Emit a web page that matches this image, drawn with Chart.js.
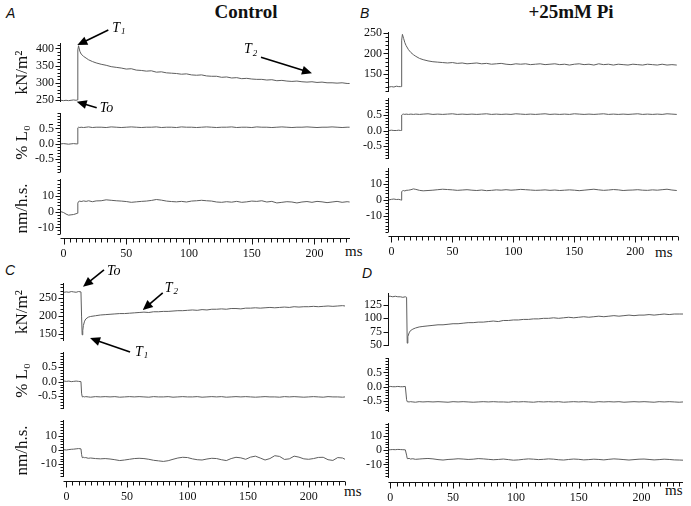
<!DOCTYPE html>
<html lang="en">
<head>
<meta charset="UTF-8" />
<title>Force, length and sarcomere responses</title>
<script src="https://cdn.jsdelivr.net/npm/chart.js"></script>
<style>
  body { margin: 0; background: #fff; }
  #fig {
    position: relative;
    width: 691px;
    height: 506px;
    overflow: hidden;
    font-family: 'Liberation Serif', 'DejaVu Serif', serif;
    color: #111;
  }
  #fig canvas { position: absolute; }
  .lbl { position: absolute; white-space: nowrap; line-height: 1; color: #111; }
  .panel { font-family: 'Liberation Sans', Arial, sans-serif; font-style: italic; font-size: 14px; }
  .head { font-weight: bold; font-size: 19px; transform: translateX(-50%); }
  .ms { font-size: 15px; }
</style>
</head>
<body>
<div id="fig">
  <div class="lbl panel" style="left:6px;top:6px">A</div>
  <div class="lbl panel" style="left:360px;top:6px">B</div>
  <div class="lbl panel" style="left:5px;top:263px">C</div>
  <div class="lbl panel" style="left:362px;top:266px">D</div>
  <div class="lbl head" style="left:246px;top:2px">Control</div>
  <div class="lbl head" style="left:571px;top:2px">+25mM Pi</div>
  <div class="lbl ms" style="left:345px;top:244px">ms</div>
  <div class="lbl ms" style="left:655px;top:245px">ms</div>
  <div class="lbl ms" style="left:344px;top:484px">ms</div>
  <div class="lbl ms" style="left:665px;top:483px">ms</div>
</div>

<script>
// ---- panel A: control, stretch (time in ms) ----
const tA = [
  -2, 0, 2, 4, 6, 8, 10, 11, 11.4, 12,
  13, 14, 16, 18, 20, 23, 26, 30, 34, 38,
  42, 46, 50, 54, 58, 62, 66, 70, 74, 78,
  82, 86, 90, 94, 98, 102, 106, 110, 114, 118,
  122, 126, 130, 134, 138, 142, 146, 150, 154, 158,
  162, 166, 170, 174, 178, 182, 186, 190, 194, 198,
  202, 206, 210, 214, 218, 222, 226, 228
];
const forceA = [
  249, 248, 249, 248, 249, 250, 249, 250, 396, 408,
  392, 384, 377, 372, 367, 362, 358, 354, 351, 347,
  345, 343, 340, 341, 337, 336, 334, 335, 331, 332,
  329, 328, 327, 325, 326, 323, 322, 323, 320, 319,
  319, 316, 317, 314, 315, 312, 313, 311, 310, 310,
  308, 309, 306, 307, 305, 304, 305, 303, 302, 303,
  301, 302, 300, 300, 299, 300, 298, 298
];
const lenA = [
  0, 0.01, 0, -0.01, 0, 0.01, 0, 0, 0.52, 0.54,
  0.53, 0.54, 0.53, 0.54, 0.55, 0.53, 0.54, 0.54, 0.53, 0.55,
  0.54, 0.53, 0.54, 0.55, 0.54, 0.53, 0.54, 0.54, 0.55, 0.53,
  0.54, 0.54, 0.53, 0.55, 0.54, 0.54, 0.53, 0.54, 0.55, 0.54,
  0.53, 0.54, 0.54, 0.55, 0.53, 0.54, 0.54, 0.53, 0.55, 0.54,
  0.54, 0.53, 0.54, 0.55, 0.54, 0.53, 0.54, 0.54, 0.55, 0.54,
  0.53, 0.54, 0.54, 0.55, 0.54, 0.53, 0.54, 0.54
];
const sarcA = [
  0, -0.5, -1.5, -2.2, -2.0, -1.8, -1.3, -1.0, 5.5, 6.5,
  6.8, 6.5, 6.9, 6.6, 7.0, 6.4, 6.9, 7.0, 7.6, 7.3,
  7.0, 6.8, 6.5, 6.0, 6.3, 6.6, 6.8, 7.2, 7.8, 7.4,
  6.8, 6.5, 6.3, 6.6, 6.2, 6.8, 7.0, 7.3, 7.0, 6.8,
  6.2, 6.0, 6.4, 6.1, 6.6, 6.0, 6.3, 6.8, 6.6, 7.0,
  6.2, 6.6, 5.6, 6.0, 6.4, 6.2, 5.6, 6.2, 6.5, 6.0,
  6.6, 6.3, 5.8, 6.2, 6.6, 6.0, 6.4, 6.2
];

// ---- panel B: +25mM Pi, stretch ----
const tB = [
  -2, 0, 2, 4, 6, 7.5, 8, 8.4, 9, 10,
  11, 12, 14, 16, 18, 20, 23, 26, 30, 34,
  38, 42, 46, 50, 54, 58, 62, 66, 70, 74,
  78, 82, 86, 90, 94, 98, 102, 106, 110, 114,
  118, 122, 126, 130, 134, 138, 142, 146, 150, 154,
  158, 162, 166, 170, 174, 178, 182, 186, 190, 194,
  198, 202, 206, 210, 214, 218, 222, 226, 230, 234
];
const forceB = [
  119, 120, 119, 121, 120, 120, 120, 232, 246, 236,
  226, 219, 209, 202, 197, 193, 188, 185, 182, 180,
  179, 178, 177, 178, 176, 177, 175, 176, 177, 175,
  176, 174, 175, 176, 174, 173, 175, 174, 175, 173,
  174, 175, 173, 174, 175, 173, 174, 172, 174, 175,
  173, 174, 172, 175, 173, 174, 172, 174, 173, 172,
  174, 173, 172, 174, 173, 172, 174, 172, 173, 172
];
const lenB = [
  0, 0.01, 0, 0, 0.01, 0, 0, 0.50, 0.52, 0.53,
  0.52, 0.53, 0.52, 0.53, 0.52, 0.53, 0.52, 0.53, 0.54, 0.52,
  0.53, 0.52, 0.53, 0.54, 0.52, 0.53, 0.52, 0.53, 0.52, 0.53,
  0.54, 0.52, 0.53, 0.52, 0.53, 0.52, 0.54, 0.53, 0.52, 0.53,
  0.52, 0.53, 0.54, 0.52, 0.53, 0.52, 0.53, 0.52, 0.54, 0.53,
  0.52, 0.53, 0.52, 0.53, 0.54, 0.52, 0.53, 0.52, 0.53, 0.52,
  0.53, 0.54, 0.52, 0.53, 0.52, 0.53, 0.52, 0.54, 0.53, 0.52
];
const sarcB = [
  0, 0.3, 0.5, 0.2, 0.3, 0, -0.2, 5.0, 5.6, 5.8,
  5.5, 5.9, 6.0, 6.3, 6.8, 6.5, 5.9, 5.6, 5.8, 6.0,
  6.3, 6.6, 6.4, 6.2, 5.9, 6.1, 6.3, 6.0, 5.8, 6.1,
  5.7, 5.9, 6.2, 6.0, 6.3, 6.0, 6.2, 6.5, 6.3, 6.1,
  5.9, 6.0, 6.2, 5.9, 6.1, 5.8, 6.0, 6.2, 6.0, 5.7,
  6.0, 6.3, 6.6, 6.2, 5.9, 6.1, 6.4, 6.2, 5.8, 6.0,
  6.1, 6.3, 6.0, 5.9, 6.2, 6.0, 6.3, 6.6, 6.1, 5.8
];

// ---- panel C: control, release ----
const tC = [
  -2, 0, 2, 4, 6, 8, 10, 12, 12.5, 13,
  13.5, 14, 15, 16, 18, 20, 24, 28, 32, 36,
  40, 44, 48, 52, 56, 60, 64, 68, 72, 76,
  80, 84, 88, 92, 96, 100, 104, 108, 112, 116,
  120, 124, 128, 132, 136, 140, 144, 148, 152, 156,
  160, 164, 168, 172, 176, 180, 184, 188, 192, 196,
  200, 204, 208, 212, 216, 220, 224, 228, 230
];
const forceC = [
  266, 267, 266, 268, 267, 266, 268, 267, 200, 148,
  160, 174, 186, 192, 197, 199, 201, 203, 204, 205,
  206, 207, 207, 208, 209, 210, 211, 210, 212, 212,
  213, 213, 214, 215, 215, 216, 217, 216, 218, 217,
  219, 219, 220, 219, 221, 221, 220, 222, 222, 223,
  222, 223, 224, 223, 224, 225, 224, 226, 225, 226,
  226, 227, 226, 227, 228, 227, 228, 229, 228
];
const lenC = [
  0.02, 0.01, 0.02, 0, 0.01, 0.02, 0.01, 0, -0.4, -0.52,
  -0.53, -0.52, -0.53, -0.52, -0.53, -0.54, -0.52, -0.53, -0.52, -0.53,
  -0.52, -0.54, -0.53, -0.52, -0.53, -0.52, -0.53, -0.54, -0.52, -0.53,
  -0.53, -0.52, -0.54, -0.53, -0.52, -0.53, -0.53, -0.52, -0.54, -0.53,
  -0.52, -0.53, -0.52, -0.54, -0.53, -0.52, -0.53, -0.52, -0.53, -0.54,
  -0.53, -0.52, -0.53, -0.53, -0.54, -0.52, -0.53, -0.52, -0.53, -0.54,
  -0.53, -0.52, -0.53, -0.54, -0.52, -0.53, -0.53, -0.54, -0.53
];
const sarcC = [
  0.2, 0, 0.3, 0.5, 0.6, 0.8, 1.0, 0.8, -3.0, -5.2,
  -5.5, -5.0, -5.4, -5.3, -5.8, -5.6, -6.0, -6.2, -6.0, -6.3,
  -6.8, -7.4, -7.0, -6.5, -6.0, -5.8, -6.0, -6.5, -7.2, -7.6,
  -8.0, -7.5, -6.5, -5.6, -5.1, -5.3, -6.2, -6.8, -7.0, -6.3,
  -5.8, -6.0, -6.8, -7.4, -6.0, -5.1, -5.5, -6.5, -5.0, -4.3,
  -5.6, -7.0, -6.0, -4.0, -4.5, -6.6, -6.2, -4.3, -5.0, -6.2,
  -6.5, -6.0, -5.2, -5.1, -6.8, -7.3, -5.3, -5.6, -6.5
];

// ---- panel D: +25mM Pi, release ----
const tD = [
  -1, 0, 2, 4, 6, 8, 10, 12, 13, 13.5,
  14, 15, 16, 18, 20, 23, 26, 30, 34, 38,
  42, 46, 50, 54, 58, 62, 66, 70, 74, 78,
  82, 86, 90, 94, 98, 102, 106, 110, 114, 118,
  122, 126, 130, 134, 138, 142, 146, 150, 154, 158,
  162, 166, 170, 174, 178, 182, 186, 190, 194, 198,
  202, 206, 210, 214, 218, 222, 226, 230, 233
];
const forceD = [
  141, 141, 140, 141, 140, 140, 139, 140, 139, 54,
  66, 73, 77, 80, 82, 84, 85, 86, 87, 88,
  88, 89, 90, 90, 91, 92, 92, 93, 93, 94,
  95, 94, 96, 96, 97, 97, 98, 98, 99, 99,
  100, 100, 101, 100, 101, 102, 101, 102, 103, 102,
  103, 104, 103, 104, 105, 104, 105, 106, 105, 106,
  106, 107, 106, 107, 108, 107, 108, 108, 108
];
const lenD = [
  0, 0.01, 0, 0, 0.01, 0, 0, 0.01, -0.45, -0.52,
  -0.52, -0.53, -0.52, -0.53, -0.54, -0.52, -0.53, -0.52, -0.53, -0.52,
  -0.53, -0.54, -0.52, -0.53, -0.52, -0.53, -0.54, -0.53, -0.52, -0.53,
  -0.52, -0.53, -0.53, -0.54, -0.52, -0.53, -0.52, -0.53, -0.54, -0.52,
  -0.53, -0.52, -0.53, -0.52, -0.54, -0.53, -0.52, -0.53, -0.52, -0.53,
  -0.54, -0.52, -0.53, -0.52, -0.53, -0.52, -0.54, -0.53, -0.52, -0.53,
  -0.52, -0.53, -0.54, -0.52, -0.53, -0.52, -0.53, -0.54, -0.53
];
const sarcD = [
  0.2, 0.3, 0.4, 0.3, 0.5, 0.4, 0.3, 0.2, -3.5, -5.8,
  -6.0, -5.7, -6.2, -6.0, -6.4, -6.2, -6.0, -5.8, -6.1, -6.6,
  -6.9, -6.5, -6.3, -6.0, -6.2, -6.5, -6.3, -5.9, -6.1, -6.4,
  -6.7, -6.5, -6.2, -6.6, -7.0, -6.8, -6.4, -6.1, -6.3, -6.6,
  -6.4, -6.1, -6.3, -6.7, -6.9, -6.5, -6.2, -6.4, -6.8, -6.6,
  -6.3, -6.5, -6.8, -6.4, -6.1, -6.3, -6.6, -6.9, -6.6, -6.3,
  -6.2, -6.5, -6.8, -6.6, -6.3, -6.5, -6.8, -6.9, -7.0
];

// ---- labelled ticks ----
const timeTicks = [0, 50, 100, 150, 200];
const forceTicksA = [250, 300, 350, 400];
const forceTicksB = [150, 200, 250];
const forceTicksC = [150, 200, 250];
const forceTicksD = [50, 75, 100, 125];
const lenTicks = [-0.5, 0, 0.5];
const sarcTicks = [-10, 0, 10];

const SERIF = "'Liberation Serif', 'DejaVu Serif', serif";
Chart.defaults.font.family = SERIF;
Chart.defaults.color = '#111';

const fig = document.getElementById('fig');

function tickList(min, max, step) {
  const out = [];
  for (let k = Math.ceil(min / step - 1e-9); k * step <= max + 1e-9; k++) {
    out.push(Math.round(k * step * 1000) / 1000);
  }
  return out;
}
function isMajor(list, v) { return list.some(m => Math.abs(m - v) < 1e-6); }

function drawNote(ctx, xs, ys, n) {
  const hx = xs.getPixelForValue(n.at[0]), hy = ys.getPixelForValue(n.at[1]);
  const tx = hx + n.tail[0], ty = hy + n.tail[1];
  const a = Math.atan2(hy - ty, hx - tx), c = Math.cos(a), s = Math.sin(a);
  ctx.strokeStyle = '#000';
  ctx.fillStyle = '#000';
  ctx.lineWidth = 1.6;
  ctx.beginPath();
  ctx.moveTo(tx, ty);
  ctx.lineTo(hx - 7 * c, hy - 7 * s);
  ctx.stroke();
  ctx.beginPath();
  ctx.moveTo(hx, hy);
  ctx.lineTo(hx - 10 * c + 4.5 * s, hy - 10 * s - 4.5 * c);
  ctx.lineTo(hx - 10 * c - 4.5 * s, hy - 10 * s + 4.5 * c);
  ctx.closePath();
  ctx.fill();
  const lx = tx + n.text[0], ly = ty + n.text[1];
  ctx.font = 'italic 14px ' + SERIF;
  ctx.textBaseline = 'middle';
  ctx.textAlign = 'left';
  ctx.fillText(n.label, lx, ly);
  if (n.sub) {
    const w = ctx.measureText(n.label).width;
    ctx.font = 'italic 9px ' + SERIF;
    ctx.fillText(n.sub, lx + w + 1, ly + 4);
  }
}

// one strip of a panel; box = [axis x, top, right, bottom] in page pixels
function plot(s) {
  const [x0, y0, x1, y1] = s.box;
  const padTop = s.padTop || 8, padBottom = s.padBottom || 8, padRight = 4;
  const xH = s.showX ? 26 : 0;
  const yW = x0 - s.left;
  const cv = document.createElement('canvas');
  cv.width = x1 - s.left + padRight;
  cv.height = (y1 - y0) + padTop + (s.showX ? xH : padBottom);
  cv.style.left = s.left + 'px';
  cv.style.top = (y0 - padTop) + 'px';
  fig.appendChild(cv);

  const marks = {
    id: 'marks',
    afterDraw(chart) {
      const ctx = chart.ctx, a = chart.chartArea;
      const xs = chart.scales.x, ys = chart.scales.y;
      const gap = s.showX ? 4 : 0;
      const ax = Math.round(a.left) - 0.5;
      ctx.save();
      ctx.strokeStyle = '#111';
      ctx.lineWidth = 1;
      ctx.beginPath();
      ctx.moveTo(ax, a.top);
      ctx.lineTo(ax, a.bottom - gap);
      ys.ticks.forEach(t => {
        const py = Math.round(ys.getPixelForValue(t.value)) + 0.5;
        if (py > a.bottom - gap + 0.5) return;
        const len = isMajor(s.majors, t.value) ? 5 : 3;
        ctx.moveTo(ax - len, py);
        ctx.lineTo(ax, py);
      });
      if (s.showX) {
        const ay = Math.round(a.bottom) + 0.5;
        ctx.moveTo(ax, ay);
        ctx.lineTo(a.right, ay);
        xs.ticks.forEach(t => {
          const px = Math.round(xs.getPixelForValue(t.value)) + 0.5;
          const len = isMajor(timeTicks, t.value) ? 6 : 4;
          ctx.moveTo(px, ay);
          ctx.lineTo(px, ay + len);
        });
      }
      ctx.stroke();
      (s.notes || []).forEach(n => drawNote(ctx, xs, ys, n));
      ctx.restore();
    }
  };

  new Chart(cv, {
    type: 'line',
    data: {
      datasets: [{
        data: s.xs.map((t, i) => ({ x: t, y: s.ys[i] })),
        borderColor: '#5e5e5e',
        borderWidth: 1,
        pointRadius: 0,
        tension: 0
      }]
    },
    options: {
      responsive: false,
      animation: false,
      events: [],
      layout: { padding: { top: padTop, right: padRight, bottom: s.showX ? 0 : padBottom, left: 0 } },
      plugins: { legend: { display: false }, tooltip: { enabled: false } },
      scales: {
        x: {
          type: 'linear',
          display: !!s.showX,
          bounds: 'data',
          min: s.xr[0],
          max: s.xr[1],
          grid: { display: false, drawTicks: false },
          border: { display: false },
          afterBuildTicks: sc => { sc.ticks = tickList(s.xr[0], s.xr[1], 5).map(v => ({ value: v })); },
          afterFit: sc => { sc.height = xH; sc.paddingLeft = 0; sc.paddingRight = 0; },
          ticks: {
            autoSkip: false, maxRotation: 0, minRotation: 0, padding: 9,
            color: '#111',
            font: { family: SERIF, size: 12 },
            callback: v => isMajor(timeTicks, v) ? String(v) : ''
          }
        },
        y: {
          bounds: 'data',
          min: s.yr[0],
          max: s.yr[1],
          grid: { display: false, drawTicks: false },
          border: { display: false },
          afterBuildTicks: sc => { sc.ticks = tickList(s.yr[0], s.yr[1], s.yr[2]).map(v => ({ value: v })); },
          afterFit: sc => { sc.width = yW; sc.paddingTop = 0; sc.paddingBottom = 0; },
          ticks: {
            autoSkip: false, padding: 7,
            color: '#111',
            font: { family: SERIF, size: 12 },
            callback: v => isMajor(s.majors, v) ? s.fmt(v) : ''
          },
          title: {
            display: !!s.title,
            text: s.title || '',
            color: '#111',
            padding: { top: 12, bottom: 0 },
            font: { family: SERIF, size: 17 }
          }
        }
      }
    },
    plugins: [marks]
  });
}

const fmtInt = v => String(Math.round(v));
const fmtLen = v => v.toFixed(1);

// panel A
plot({ left: 0, box: [61, 43, 350, 102], xs: tA, ys: forceA, xr: [-2, 228.3], yr: [244, 416, 10],
  majors: forceTicksA, fmt: fmtInt, title: 'kN/m²', padTop: 26, padBottom: 16,
  notes: [
    { at: [11, 410], tail: [31, -15], label: 'T', sub: '1', text: [4, -2] },
    { at: [198, 328], tail: [-51, -16], label: 'T', sub: '2', text: [-17, -8] },
    { at: [10.5, 245], tail: [20, 6], label: 'To', text: [3, 1] }
  ] });
plot({ left: 0, box: [61, 113, 350, 172], xs: tA, ys: lenA, xr: [-2, 228.3], yr: [-0.91, 1.0, 0.1],
  majors: lenTicks, fmt: fmtLen, title: '% L₀' });
plot({ left: 0, box: [61, 179, 350, 238], xs: tA, ys: sarcA, xr: [-2, 228.3], yr: [-16.8, 20.9, 2],
  majors: sarcTicks, fmt: fmtInt, title: 'nm/h.s.', showX: true });

// panel B
plot({ left: 340, box: [389, 32, 678, 92], xs: tB, ys: forceB, xr: [-2, 235], yr: [107, 251.7, 10],
  majors: forceTicksB, fmt: fmtInt });
plot({ left: 340, box: [389, 98, 678, 159], xs: tB, ys: lenB, xr: [-2, 235], yr: [-0.92, 1.05, 0.1],
  majors: lenTicks, fmt: fmtLen });
plot({ left: 340, box: [389, 168, 678, 236], xs: tB, ys: sarcB, xr: [-2, 235], yr: [-22.5, 19.8, 2],
  majors: sarcTicks, fmt: fmtInt, showX: true });

// panel C
plot({ left: 0, box: [64, 283, 345, 341], xs: tC, ys: forceC, xr: [-2, 230], yr: [131, 291.7, 10],
  majors: forceTicksC, fmt: fmtInt, title: 'kN/m²', padTop: 22, padBottom: 20,
  notes: [
    { at: [13.7, 281], tail: [21, -17], label: 'To', text: [3, 1] },
    { at: [63, 217], tail: [20, -17], label: 'T', sub: '2', text: [2, -5] },
    { at: [19.5, 139], tail: [40, 14], label: 'T', sub: '1', text: [5, 0] }
  ] });
plot({ left: 0, box: [64, 352, 345, 409], xs: tC, ys: lenC, xr: [-2, 230], yr: [-0.95, 1.03, 0.1],
  majors: lenTicks, fmt: fmtLen, title: '% L₀' });
plot({ left: 0, box: [64, 420, 345, 481], xs: tC, ys: sarcC, xr: [-2, 230], yr: [-21.7, 21, 2],
  majors: sarcTicks, fmt: fmtInt, title: 'nm/h.s.', showX: true });

// panel D
plot({ left: 340, box: [389, 293, 683, 346], xs: tD, ys: forceD, xr: [-1, 233], yr: [48.7, 147, 25],
  majors: forceTicksD, fmt: fmtInt });
plot({ left: 340, box: [389, 358, 683, 412], xs: tD, ys: lenD, xr: [-1, 233], yr: [-0.88, 1.0, 0.1],
  majors: lenTicks, fmt: fmtLen });
plot({ left: 340, box: [389, 423, 683, 482], xs: tD, ys: sarcD, xr: [-1, 233], yr: [-22.2, 18.9, 2],
  majors: sarcTicks, fmt: fmtInt, showX: true });
</script>
</body>
</html>
